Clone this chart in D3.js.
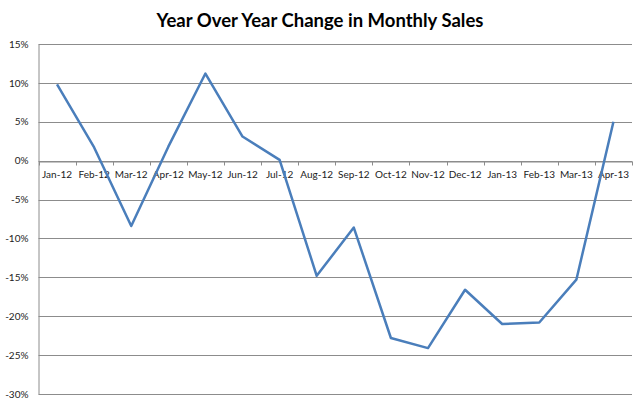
<!DOCTYPE html>
<html><head><meta charset="utf-8">
<script src="https://cdn.jsdelivr.net/npm/d3@7"></script>
<style>body{margin:0;background:#fff}</style>
</head><body>
<svg id="c" width="640" height="403"></svg>
<script>
const title = "Year Over Year Change in Monthly Sales";
const categories = ["Jan-12","Feb-12","Mar-12","Apr-12","May-12","Jun-12","Jul-12","Aug-12","Sep-12","Oct-12","Nov-12","Dec-12","Jan-13","Feb-13","Mar-13","Apr-13"];
const values = [9.8, 1.7, -8.4, 1.8, 11.2, 3.1, 0.1, -14.8, -8.6, -22.8, -24.1, -16.6, -21.0, -20.8, -15.3, 5.0];
const yTicks = [15, 10, 5, 0, -5, -10, -15, -20, -25, -30];

const svg = d3.select("#c");
const m = {l: 38.5, r: 632, t: 44, b: 394};
const x = d3.scaleBand().domain(categories).range([m.l, m.r]).padding(0);
const y = d3.scaleLinear().domain([-30, 15]).range([m.b, m.t]);
const font = "Lato, 'Open Sans', sans-serif";

svg.append("text").attr("x", 320).attr("y", 27).attr("text-anchor", "middle")
  .attr("font-family", font).attr("font-weight", "bold").attr("font-size", 18.5)
  .attr("fill", "#000").text(title);

// gridlines
svg.append("g").selectAll("line").data(yTicks).join("line")
  .attr("x1", m.l).attr("x2", m.r)
  .attr("y1", d => Math.round(y(d)) + 0.5).attr("y2", d => Math.round(y(d)) + 0.5)
  .attr("stroke", "#8c8c8c").attr("stroke-width", 1);

// y axis
const ya = svg.append("g").attr("transform", `translate(${m.l},0)`)
  .call(d3.axisLeft(y).tickValues(yTicks).tickSize(0).tickPadding(10).tickFormat(d => d + "%"));
ya.select(".domain").attr("stroke", "#8c8c8c");
ya.selectAll("text").attr("font-family", font).attr("font-size", 10).attr("fill", "#222");

// x axis at zero
const xa = svg.append("g").attr("transform", `translate(0,${Math.round(y(0)) + 0.5})`)
  .call(d3.axisBottom(x).tickSize(0).tickPadding(9));
xa.select(".domain").attr("stroke", "#8c8c8c");
xa.selectAll("text").attr("font-family", font).attr("font-size", 10).attr("fill", "#222");
// category boundary ticks
const bounds = categories.map(c => x(c)).concat([m.r]);
xa.append("g").selectAll("line").data(bounds).join("line")
  .attr("x1", d => Math.round(d) + 0.5).attr("x2", d => Math.round(d) + 0.5)
  .attr("y1", 0).attr("y2", 4).attr("stroke", "#8c8c8c");

// line
const line = d3.line().x((d, i) => x(categories[i]) + x.bandwidth() / 2).y(d => y(d));
svg.append("path").datum(values).attr("d", line)
  .attr("fill", "none").attr("stroke", "#4a7ebb").attr("stroke-width", 2.5)
  .attr("stroke-linejoin", "round");
</script>
</body></html>
